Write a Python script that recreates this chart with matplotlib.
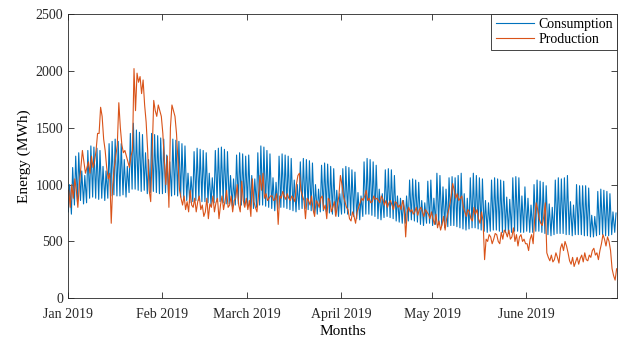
import matplotlib.pyplot as plt
import numpy as np

plt.rcParams['font.family'] = ['Liberation Serif', 'DejaVu Serif']

# daily consumption peak (midday) and trough (night), MWh
cons_peak = [
    # Jan
    1000, 1150, 1250, 1280, 1120, 1080, 1300, 1340, 1330, 1320, 1300, 1160, 1120, 1360, 1380, 1400,
    1380, 1360, 1220, 1160, 1450, 1540, 1480, 1460, 1440, 1280, 1220, 1450, 1440, 1430, 1410,
    # Feb
    1400, 1260, 1200, 1400, 1390, 1380, 1360, 1340, 1100, 1070, 1290, 1320, 1310, 1300, 1280, 1100,
    1060, 1300, 1320, 1330, 1310, 1290, 1080, 1050, 1260, 1280, 1270, 1250,
    # Mar
    1260, 1080, 1050, 1280, 1340, 1330, 1300, 1270, 1060, 1020, 1250, 1270, 1260, 1250, 1230, 1040,
    1000, 1200, 1230, 1220, 1210, 1190, 1000, 960, 1170, 1190, 1180, 1160, 1140, 950, 920,
    # Apr
    1140, 1160, 1150, 1130, 1110, 930, 900, 1200, 1230, 1220, 1200, 1170, 960, 920, 1130, 1140,
    1130, 1080, 900, 880, 860, 900, 1040, 1050, 1040, 1020, 860, 840, 1030, 1040,
    # May
    880, 1100, 1080, 980, 960, 1060, 1070, 1060, 1080, 1100, 920, 880, 1060, 1100, 1080, 1060,
    1050, 860, 840, 1040, 1060, 1050, 1040, 1030, 890, 870, 1060, 1070, 1060, 900, 980,
    # Jun
    880, 820, 1000, 1040, 1030, 1020, 990, 830, 800, 1040, 1060, 1050, 1060, 1080, 850, 820,
    1000, 990, 990, 990, 970, 730, 720, 940, 960, 950, 940, 920, 760, 750,
]
cons_trough = [
    # Jan
    760, 740, 820, 850, 860, 830, 840, 880, 890, 880, 870, 880, 860, 880, 900, 910,
    900, 900, 910, 890, 930, 960, 960, 950, 940, 950, 920, 930, 940, 930, 920,
    # Feb
    920, 930, 900, 900, 910, 900, 890, 880, 860, 840, 850, 860, 860, 850, 850, 840,
    820, 840, 850, 850, 840, 830, 830, 810, 820, 830, 820, 810,
    # Mar
    810, 800, 790, 800, 820, 820, 810, 800, 790, 770, 790, 800, 800, 790, 780, 770,
    760, 780, 790, 790, 780, 770, 750, 740, 760, 770, 760, 750, 740, 730, 720,
    # Apr
    740, 750, 740, 730, 720, 700, 690, 720, 740, 740, 730, 720, 700, 690, 710, 720,
    710, 700, 680, 670, 660, 660, 680, 690, 680, 670, 650, 640, 660, 660,
    # May
    640, 650, 650, 640, 620, 630, 640, 640, 630, 620, 610, 600, 610, 620, 620, 610,
    600, 590, 580, 590, 600, 600, 590, 580, 580, 570, 580, 590, 590, 580, 580,
    # Jun
    590, 580, 580, 590, 590, 580, 570, 560, 550, 560, 570, 570, 570, 560, 560, 550,
    560, 560, 560, 550, 550, 540, 540, 550, 560, 560, 550, 550, 560, 580,
]

# production, two readings per day (morning, evening), MWh
prod_am = [
    # Jan
    950, 1000, 1050, 800, 1150, 1200, 1150, 1100, 1150, 1300, 1450, 1600, 1300, 1050, 660, 1150,
    1350, 1500, 1280, 1250, 1150, 1300, 1650, 1900, 1800, 1700, 1300, 850, 1740, 1600, 1650,
    # Feb
    1450, 1000, 800, 1700, 1600, 1200, 880, 900, 850, 950, 800, 760, 900, 820, 760, 700,
    800, 760, 880, 820, 780, 950, 820, 760, 880, 820, 1030, 800,
    # Mar
    780, 720, 850, 760, 1080, 1100, 920, 880, 900, 870, 650, 880, 900, 920, 860, 880,
    1000, 1100, 900, 700, 860, 900, 720, 840, 880, 780, 700, 860, 800, 720, 900,
    # Apr
    1000, 850, 780, 680, 720, 760, 840, 860, 950, 880, 850, 870, 860, 900, 820, 800,
    860, 780, 840, 820, 860, 540, 800, 780, 760, 730, 800, 720, 760, 700,
    # May
    700, 740, 680, 650, 600, 760, 900, 950, 920, 880, 800, 720, 760, 680, 740, 700,
    760, 340, 500, 540, 520, 560, 480, 520, 580, 600, 540, 500, 460, 560, 520,
    # Jun
    480, 520, 480, 840, 700, 640, 840, 360, 380, 340, 360, 440, 420, 460, 330, 360,
    320, 300, 380, 400, 330, 360, 440, 400, 420, 560, 460, 500, 260, 160,
]
prod_pm = [
    # Jan
    800, 880, 950, 1000, 1300, 1100, 1200, 1250, 1200, 1450, 1680, 1400, 1150, 1100, 1000, 1250,
    1720, 1350, 1300, 1200, 1250, 2020, 1980, 1950, 1920, 1550, 950, 1300, 1650, 1700, 1600,
    # Feb
    1200, 1250, 1500, 1650, 1450, 950, 820, 780, 760, 820, 880, 850, 780, 720, 880, 830,
    900, 840, 700, 900, 860, 800, 900, 860, 1000, 760, 860, 880,
    # Mar
    860, 1050, 800, 900, 950, 880, 860, 900, 860, 920, 900, 940, 870, 880, 900, 850,
    1080, 950, 860, 880, 820, 780, 860, 800, 900, 820, 880, 760, 850, 820, 1080,
    # Apr
    900, 800, 700, 760, 660, 800, 880, 900, 860, 840, 900, 880, 840, 870, 860, 840,
    820, 850, 800, 780, 800, 760, 760, 740, 800, 780, 760, 780, 740, 760,
    # May
    650, 620, 600, 720, 700, 820, 1010, 880, 860, 900, 760, 780, 700, 800, 780, 660,
    680, 520, 560, 480, 570, 500, 580, 600, 540, 520, 620, 560, 540, 500, 480,
    # Jun
    420, 560, 700, 780, 660, 720, 400, 330, 320, 400, 310, 480, 500, 400, 300, 280,
    360, 350, 320, 340, 380, 420, 380, 340, 480, 520, 540, 420, 200, 260,
]

month_starts = [0, 31, 59, 90, 120, 151]
month_labels = ['Jan 2019', 'Feb 2019', 'March 2019', 'April 2019', 'May 2019', 'June 2019']

days = np.arange(len(cons_peak))
t_cons = np.column_stack([days + 3 / 24, days + 13 / 24]).ravel()
y_cons = np.column_stack([cons_trough, cons_peak]).ravel()
t_prod = np.column_stack([days + 6 / 24, days + 18 / 24]).ravel()
y_prod = np.column_stack([prod_am, prod_pm]).ravel()

fig = plt.figure(figsize=(6.18, 3.40), dpi=100)
ax = fig.add_axes([0.110, 0.1226, 0.889, 0.8362])

ax.plot(t_cons, y_cons, color='#0072BD', lw=0.8, label='Consumption')
ax.plot(t_prod, y_prod, color='#D95319', lw=0.8, label='Production')

ax.set_xlim(0, 181)
ax.set_ylim(0, 2500)
ax.set_xticks(month_starts)
ax.set_xticklabels(month_labels)
ax.set_yticks(range(0, 2501, 500))
ax.tick_params(direction='in', top=True, right=True, labelsize=10, colors='#262626',
               length=4, width=0.6)
ax.tick_params(axis='x', pad=7)
for s in ax.spines.values():
    s.set_color('#262626')
    s.set_linewidth(0.6)
ax.set_xlabel('Months', fontsize=11, labelpad=3)
ax.set_ylabel('Energy (MWh)', fontsize=11, labelpad=3)

leg = ax.legend(loc='upper right', fontsize=10, handlelength=2.8, borderaxespad=0,
                borderpad=0.3, labelspacing=0.1, handletextpad=0.3, fancybox=False,
                framealpha=1)
leg.get_frame().set_edgecolor('#262626')
leg.get_frame().set_linewidth(0.6)

fig.savefig('out.png', dpi=100)
